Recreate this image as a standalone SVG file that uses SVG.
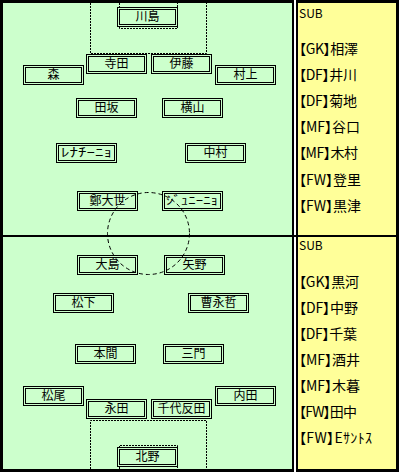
<svg xmlns="http://www.w3.org/2000/svg" width="400" height="474" viewBox="0 0 400 474">
<style>
.nb{fill:#CCFFCC;stroke:#000;stroke-width:1}
.nl{font-family:"Noto Sans CJK JP","Noto Sans",sans-serif;font-size:12px;fill:#000;text-anchor:middle}
.sub{font-family:"Noto Sans CJK JP","Noto Sans",sans-serif;font-size:14px;fill:#000;font-feature-settings:"palt"}
.subh{font-family:"Noto Sans CJK JP","Noto Sans",sans-serif;font-size:12px;fill:#000}
.goal{fill:none;stroke:#000;stroke-width:1;stroke-dasharray:2 1}
.circ{fill:none;stroke:#000;stroke-width:1;stroke-dasharray:4 3}
</style>
<rect x="0" y="0" width="400" height="474" fill="#FFFFFF"/>
<g id="field">
<rect x="0" y="0" width="294" height="472" fill="#000"/>
<rect x="3" y="3" width="289" height="466" fill="#CCFFCC"/>
</g>
<g id="subpanel">
<rect x="296" y="0" width="103" height="472" fill="#000"/>
<rect x="298" y="3" width="98" height="466" fill="#FFFF99"/>
</g>
<rect id="midline" x="0" y="235" width="399" height="2" fill="#000"/>
<g id="goal-areas">
<path class="goal" d="M90.5 3V53.5H206.5V3"/>
<path class="goal" d="M119.5 3V28.5H177.5V3"/>
<path class="goal" d="M90.5 469V420.5H206.5V469"/>
<path class="goal" d="M119.5 469V445.5H177.5V469"/>
</g>
<g id="n-kawashima"><rect class="nb" x="117.5" y="7.5" width="60" height="19"/><rect class="nb" x="119.5" y="9.5" width="56" height="15"/><text class="nl" x="147.5" y="21">川島</text></g>
<g id="n-terada"><rect class="nb" x="86.5" y="54.5" width="60" height="19"/><rect class="nb" x="88.5" y="56.5" width="56" height="15"/><text class="nl" x="116.5" y="68">寺田</text></g>
<g id="n-ito"><rect class="nb" x="151.5" y="54.5" width="60" height="19"/><rect class="nb" x="153.5" y="56.5" width="56" height="15"/><text class="nl" x="181.5" y="68">伊藤</text></g>
<g id="n-mori"><rect class="nb" x="23.5" y="65.5" width="60" height="19"/><rect class="nb" x="25.5" y="67.5" width="56" height="15"/><text class="nl" x="53.5" y="79">森</text></g>
<g id="n-murakami"><rect class="nb" x="215.5" y="65.5" width="60" height="19"/><rect class="nb" x="217.5" y="67.5" width="56" height="15"/><text class="nl" x="245.5" y="79">村上</text></g>
<g id="n-tasaka"><rect class="nb" x="76.5" y="98.5" width="60" height="19"/><rect class="nb" x="78.5" y="100.5" width="56" height="15"/><text class="nl" x="106.5" y="112">田坂</text></g>
<g id="n-yokoyama"><rect class="nb" x="162.5" y="98.5" width="60" height="19"/><rect class="nb" x="164.5" y="100.5" width="56" height="15"/><text class="nl" x="192.5" y="112">横山</text></g>
<g id="n-renatinho"><rect class="nb" x="56.5" y="143.5" width="60" height="19"/><rect class="nb" x="58.5" y="145.5" width="56" height="15"/><text class="nl" x="86.5" y="157" textLength="51" lengthAdjust="spacingAndGlyphs">ﾚﾅﾁｰﾆｮ</text></g>
<g id="n-nakamura"><rect class="nb" x="185.5" y="143.5" width="60" height="19"/><rect class="nb" x="187.5" y="145.5" width="56" height="15"/><text class="nl" x="215.5" y="157">中村</text></g>
<g id="n-chong"><rect class="nb" x="77.5" y="191.5" width="60" height="19"/><rect class="nb" x="79.5" y="193.5" width="56" height="15"/><text class="nl" x="107.5" y="205">鄭大世</text></g>
<g id="n-juninho"><rect class="nb" x="162.5" y="191.5" width="60" height="19"/><rect class="nb" x="164.5" y="193.5" width="56" height="15"/><text class="nl" x="192" y="205" textLength="52" lengthAdjust="spacingAndGlyphs">ｼﾞｭﾆｰﾆｮ</text></g>
<g id="n-oshima"><rect class="nb" x="77.5" y="255.5" width="60" height="19"/><rect class="nb" x="79.5" y="257.5" width="56" height="15"/><text class="nl" x="107.5" y="269">大島</text></g>
<g id="n-yano"><rect class="nb" x="164.5" y="255.5" width="60" height="19"/><rect class="nb" x="166.5" y="257.5" width="56" height="15"/><text class="nl" x="194.5" y="269">矢野</text></g>
<g id="n-matsushita"><rect class="nb" x="53.5" y="293.5" width="60" height="19"/><rect class="nb" x="55.5" y="295.5" width="56" height="15"/><text class="nl" x="83.5" y="307">松下</text></g>
<g id="n-cho"><rect class="nb" x="188.5" y="293.5" width="60" height="19"/><rect class="nb" x="190.5" y="295.5" width="56" height="15"/><text class="nl" x="218.5" y="307">曹永哲</text></g>
<g id="n-homma"><rect class="nb" x="75.5" y="344.5" width="60" height="19"/><rect class="nb" x="77.5" y="346.5" width="56" height="15"/><text class="nl" x="105.5" y="358">本間</text></g>
<g id="n-mikado"><rect class="nb" x="163.5" y="344.5" width="60" height="19"/><rect class="nb" x="165.5" y="346.5" width="56" height="15"/><text class="nl" x="193.5" y="358">三門</text></g>
<g id="n-matsuo"><rect class="nb" x="23.5" y="386.5" width="60" height="19"/><rect class="nb" x="25.5" y="388.5" width="56" height="15"/><text class="nl" x="53.5" y="400">松尾</text></g>
<g id="n-nagata"><rect class="nb" x="86.5" y="399.5" width="60" height="19"/><rect class="nb" x="88.5" y="401.5" width="56" height="15"/><text class="nl" x="116.5" y="413">永田</text></g>
<g id="n-chiyotanda"><rect class="nb" x="151.5" y="399.5" width="60" height="19"/><rect class="nb" x="153.5" y="401.5" width="56" height="15"/><text class="nl" x="181.5" y="413">千代反田</text></g>
<g id="n-uchida"><rect class="nb" x="215.5" y="386.5" width="60" height="19"/><rect class="nb" x="217.5" y="388.5" width="56" height="15"/><text class="nl" x="245.5" y="400">内田</text></g>
<g id="n-kitano"><rect class="nb" x="117.5" y="447.5" width="60" height="19"/><rect class="nb" x="119.5" y="449.5" width="56" height="15"/><text class="nl" x="147.5" y="461">北野</text></g>
<circle id="center-circle" class="circ" cx="148.5" cy="233.5" r="41"/>
<g id="sub-top">
<text class="subh" x="299" y="18">SUB</text>
<text class="sub" x="299" y="53.5" textLength="59" lengthAdjust="spacing">【GK】相澤</text>
<text class="sub" x="299" y="79.7" textLength="58" lengthAdjust="spacing">【DF】井川</text>
<text class="sub" x="299" y="105.9" textLength="58" lengthAdjust="spacing">【DF】菊地</text>
<text class="sub" x="299" y="132.1" textLength="61" lengthAdjust="spacing">【MF】谷口</text>
<text class="sub" x="299" y="158.3" textLength="59" lengthAdjust="spacing">【MF】木村</text>
<text class="sub" x="299" y="184.5" textLength="62" lengthAdjust="spacing">【FW】登里</text>
<text class="sub" x="299" y="210.7" textLength="62" lengthAdjust="spacing">【FW】黒津</text>
</g>
<g id="sub-bottom">
<text class="subh" x="299" y="250">SUB</text>
<text class="sub" x="299" y="286.5" textLength="60" lengthAdjust="spacing">【GK】黒河</text>
<text class="sub" x="299" y="312.5" textLength="59" lengthAdjust="spacing">【DF】中野</text>
<text class="sub" x="299" y="338.5" textLength="58" lengthAdjust="spacing">【DF】千葉</text>
<text class="sub" x="299" y="364.5" textLength="61" lengthAdjust="spacing">【MF】酒井</text>
<text class="sub" x="299" y="390.5" textLength="61" lengthAdjust="spacing">【MF】木暮</text>
<text class="sub" x="299" y="416.5" textLength="58" lengthAdjust="spacing">【FW】田中</text>
<text class="sub" x="299" y="442.5" textLength="73" lengthAdjust="spacing">【FW】Eｻﾝﾄｽ</text>
</g>
</svg>
